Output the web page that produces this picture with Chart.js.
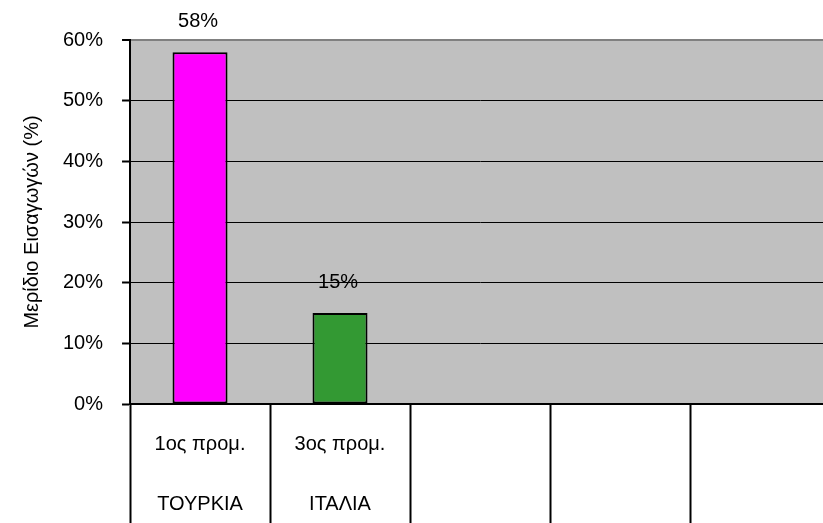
<!DOCTYPE html>
<html>
<head>
<meta charset="utf-8">
<script src="https://cdn.jsdelivr.net/npm/chart.js@4"></script>
<style>
  html, body { margin: 0; padding: 0; background: #fff; overflow: hidden; }
  #wrap { width: 840px; height: 523px; }
</style>
</head>
<body>
<div id="wrap"><canvas id="chart"></canvas></div>
<script>
const rankLabels = ['1ος προμ.', '3ος προμ.', '', '', ''];
const countryLabels = ['ΤΟΥΡΚΙΑ', 'ΙΤΑΛΙΑ', '', '', ''];
const shares = [58, 15, null, null, null];
const barColors = ['#FF00FF', '#339933', '#999', '#999', '#999'];
const yTicks = [0, 10, 20, 30, 40, 50, 60];

const FONT = "'Liberation Sans Narrow', 'Arial Narrow', 'Liberation Sans', sans-serif";

// gray plot area
const plotBg = {
  id: 'plotBg',
  beforeDraw(chart) {
    const { ctx, chartArea: a } = chart;
    ctx.save();
    ctx.fillStyle = '#C0C0C0';
    ctx.fillRect(a.left, a.top, a.right - a.left, a.bottom - a.top);
    ctx.restore();
  }
};

// value labels above the bars
const valueLabels = {
  id: 'valueLabels',
  afterDatasetsDraw(chart) {
    const { ctx } = chart;
    const meta = chart.getDatasetMeta(0);
    ctx.save();
    ctx.font = '20px ' + FONT;
    ctx.fillStyle = '#000';
    ctx.textAlign = 'center';
    ctx.textBaseline = 'bottom';
    meta.data.forEach((bar, i) => {
      const v = shares[i];
      if (v == null) return;
      ctx.fillText(v + '%', bar.x - 2, bar.y - 21);
    });
    ctx.restore();
  }
};

new Chart(document.getElementById('chart'), {
  type: 'bar',
  data: {
    labels: rankLabels.map((r, i) => [r, countryLabels[i]]),
    datasets: [{
      data: shares,
      backgroundColor: barColors,
      borderColor: '#000',
      borderWidth: 2,
      borderSkipped: false,
      categoryPercentage: 1,
      barPercentage: 0.393
    }]
  },
  options: {
    responsive: true, maintainAspectRatio: false, animation: false,
    layout: { padding: { top: 40, right: 10, bottom: 0, left: 20 } },
    plugins: { legend: { display: false }, tooltip: { enabled: false } },
    scales: {
      x: {
        offset: true,
        afterFit: s => { s.height = 119; },
        border: { color: '#000', width: 2 },
        grid: { offset: true, drawOnChartArea: false, tickLength: 120, tickColor: '#000', tickWidth: 2 },
        ticks: { color: '#000', padding: -110, maxRotation: 0, autoSkip: false, font: { family: FONT, size: 20, lineHeight: 3 } }
      },
      y: {
        min: 0, max: 60,
        afterBuildTicks: s => { s.ticks = yTicks.map(v => ({ value: v })); },
        border: { color: '#000', width: 2 },
        grid: {
          color: c => c.tick && c.tick.value === 60 ? '#808080' : '#000',
          lineWidth: c => c.tick && c.tick.value === 60 ? 2 : 1,
          tickLength: 8, tickColor: '#000', tickWidth: 2
        },
        ticks: { color: '#000', padding: 19, callback: v => v + '%', font: { family: FONT, size: 20 } },
        title: { display: true, text: 'Μερίδιο Εισαγωγών (%)', color: '#000', font: { family: FONT, size: 20 }, padding: { top: 0, bottom: 0 } }
      }
    }
  },
  plugins: [plotBg, valueLabels]
});
</script>
</body>
</html>
